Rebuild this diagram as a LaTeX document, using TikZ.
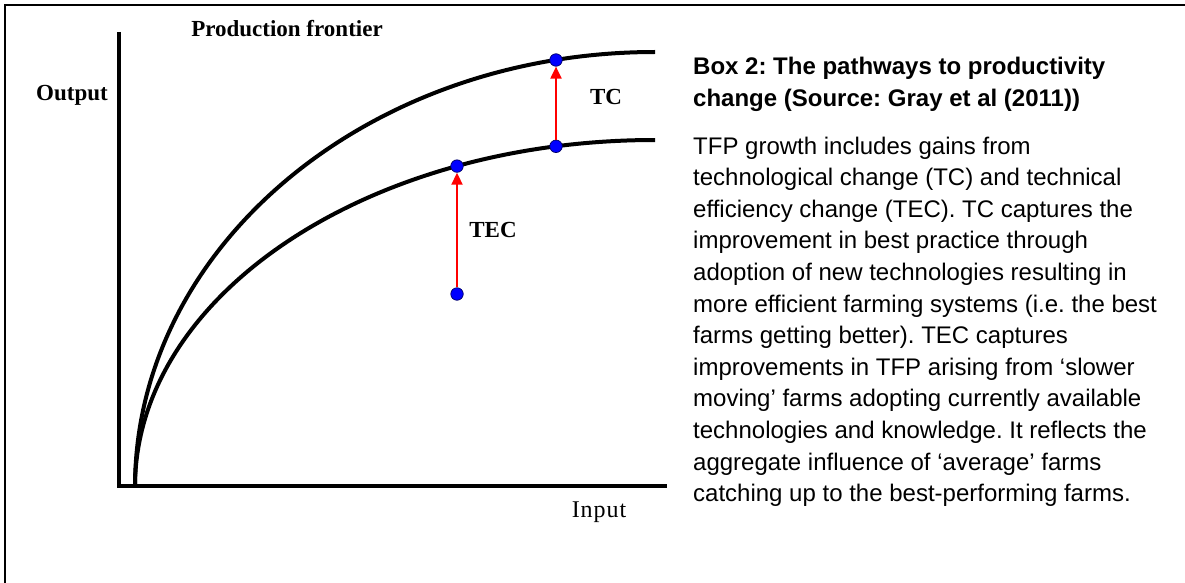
\documentclass[tikz,border=0pt]{standalone}
\usepackage{fontspec}
\setmainfont{Liberation Serif}
\newfontfamily\boxfont{Liberation Sans}
\usetikzlibrary{arrows.meta}
\frenchspacing
\begin{document}
\begin{tikzpicture}[x=1pt,y=-1pt,
  lbl/.style={font=\fontsize{23}{27}\selectfont\bfseries, inner sep=0},
  dot/.style={circle, fill=blue, draw=black!60!blue, line width=0.7pt, minimum size=12.5pt, inner sep=0},
  shiftarrow/.style={red, line width=2pt, -{Triangle[length=12pt,width=11pt]}},
  frontier/.style={line width=4pt},
  axisline/.style={line width=3.6pt},
  bodyline/.style={anchor=base west, inner sep=0, font=\boxfont\fontsize{24}{28}\selectfont},
  titleline/.style={anchor=base west, inner sep=0, font=\boxfont\bfseries\fontsize{24}{28}\selectfont}]
\useasboundingbox (0,0) rectangle (1185,583);
% outer frame (top and left edges)
\draw[line width=2.4pt] (1190,5) -- (5,5) -- (5,590);
% axes
\coordinate (ytop) at (119,32);
\coordinate (orig) at (119,486);
\coordinate (xend) at (667,486);
\draw[axisline] (ytop) -- (orig) -- (xend);
% frontiers (quarter ellipses)
\coordinate (fstart) at (135,487);
\draw[frontier] (fstart) arc[start angle=180, end angle=270, x radius=520, y radius=435];
\draw[frontier] (fstart) arc[start angle=180, end angle=270, x radius=520, y radius=347];
% points
\node[dot] (p1) at (457,294) {};
\node[dot] (p2) at (457,166.1) {};
\node[dot] (p3) at (556,146.3) {};
\node[dot] (p4) at (556,60) {};
\draw[shiftarrow] (p1) -- (p2);
\draw[shiftarrow] (p3) -- (p4);
% labels
\node[lbl] (title) at (287,29) {Production frontier};
\node[lbl] (ylab) at (72,95) {Output};
\node[lbl] (tc) at (606,97) {TC};
\node[lbl] (tec) at (493,230) {TEC};
\node[inner sep=0, font=\fontsize{24}{28}\selectfont\addfontfeature{LetterSpace=4}] (xlab) at (599,512) {Input};
% box text
\node[titleline] (h1) at (693,75) {Box 2: The pathways to productivity};
\node[titleline] (h2) at (693,106.5) {change (Source: Gray et al (2011))};
\node[bodyline] (b1) at (693,154) {TFP growth includes gains from};
\node[bodyline] (b2) at (693,185.6) {technological change (TC) and technical};
\node[bodyline] (b3) at (693,217.2) {efficiency change (TEC). TC captures the};
\node[bodyline] (b4) at (693,248.8) {improvement in best practice through};
\node[bodyline] (b5) at (693,280.4) {adoption of new technologies resulting in};
\node[bodyline] (b6) at (693,312) {more efficient farming systems (i.e. the best};
\node[bodyline] (b7) at (693,343.6) {farms getting better). TEC captures};
\node[bodyline] (b8) at (693,375.2) {improvements in TFP arising from ‘slower};
\node[bodyline] (b9) at (693,406.8) {moving’ farms adopting currently available};
\node[bodyline] (b10) at (693,438.4) {technologies and knowledge. It reflects the};
\node[bodyline] (b11) at (693,470) {aggregate influence of ‘average’ farms};
\node[bodyline] (b12) at (693,501.6) {catching up to the best-performing farms.};
\end{tikzpicture}
\end{document}
